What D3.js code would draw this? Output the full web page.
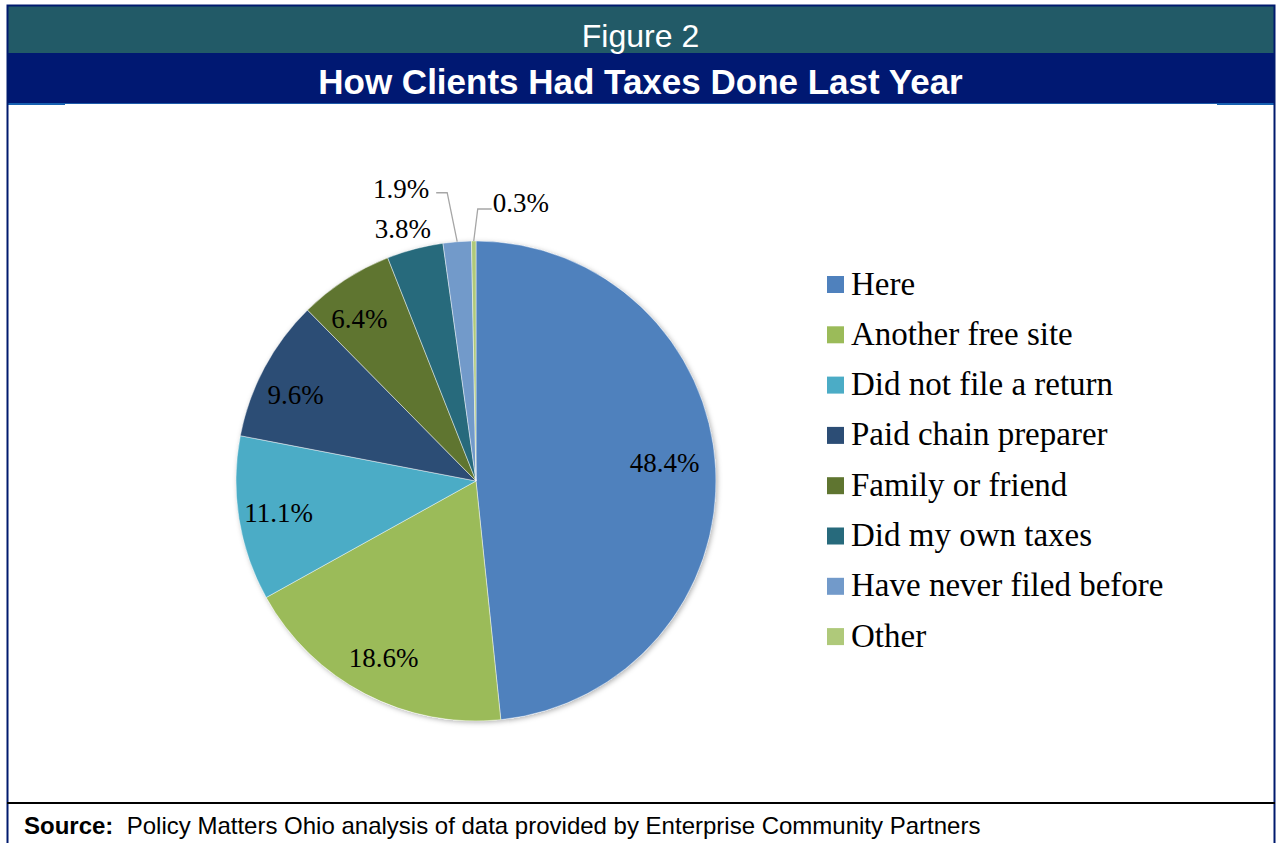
<!DOCTYPE html>
<html>
<head>
<meta charset="utf-8">
<script src="https://cdn.jsdelivr.net/npm/d3@7"></script>
<style>
  html, body { margin: 0; padding: 0; background: #fff; }
  svg { display: block; }
</style>
</head>
<body>
<svg id="chart" width="1276" height="843"></svg>
<script>
// Survey answers: how clients had their taxes done last year (percent)
const categories = [
  "Here",
  "Another free site",
  "Did not file a return",
  "Paid chain preparer",
  "Family or friend",
  "Did my own taxes",
  "Have never filed before",
  "Other"
];
const shares = [48.4, 18.6, 11.1, 9.6, 6.4, 3.8, 1.9, 0.3];
const sliceColors = ["#4F81BD", "#9BBB59", "#4BACC6", "#2C4D75", "#5F7530", "#276A7C", "#729ACA", "#AFC97A"];

const figureLabel = "Figure 2";
const titleText = "How Clients Had Taxes Done Last Year";
const sourceLead = "Source:";
const sourceText = "Policy Matters Ohio analysis of data provided by Enterprise Community Partners";

const svg = d3.select("#chart");
const serif = "'Liberation Serif', 'Times New Roman', serif";
const sans = "'Liberation Sans', Arial, sans-serif";

// ---- frame and header bands ----
const frameColor = "#001A6E";
svg.append("rect").attr("x", 8).attr("y", 6).attr("width", 1266).attr("height", 47).attr("fill", "#225A67");
svg.append("rect").attr("x", 8).attr("y", 53).attr("width", 1266).attr("height", 50).attr("fill", "#001872");
svg.append("line").attr("x1", 8).attr("x2", 1274).attr("y1", 103.5).attr("y2", 103.5)
  .attr("stroke", "#1D5AA8").attr("stroke-width", 1);
svg.append("rect").attr("x", 8).attr("y", 103).attr("width", 57).attr("height", 2).attr("fill", "#1660B0");
svg.append("rect").attr("x", 1217).attr("y", 103).attr("width", 57).attr("height", 2).attr("fill", "#1660B0");
// outer border (left, top, right)
svg.append("path")
  .attr("d", "M7.5,843 V5.5 H1274.5 V843")
  .attr("fill", "none").attr("stroke", frameColor).attr("stroke-width", 2);
// footer rule
svg.append("line").attr("x1", 7).attr("x2", 1275).attr("y1", 803).attr("y2", 803)
  .attr("stroke", "#000").attr("stroke-width", 2);

svg.append("text").attr("x", 640.5).attr("y", 47).attr("text-anchor", "middle")
  .attr("font-family", sans).attr("font-size", 32).attr("fill", "#fff").text(figureLabel);
svg.append("text").attr("x", 640.5).attr("y", 94).attr("text-anchor", "middle")
  .attr("font-family", sans).attr("font-weight", "bold").attr("font-size", 35).attr("fill", "#fff").text(titleText);

const src = svg.append("text").attr("x", 24).attr("y", 834)
  .attr("font-family", sans).attr("font-size", 24).attr("fill", "#000");
src.append("tspan").attr("font-weight", "bold").text(sourceLead);
src.append("tspan").text("\u00a0\u00a0" + sourceText);

// ---- pie ----
const cx = 476, cy = 481, R = 240;
const defs = svg.append("defs");
const shadow = defs.append("filter").attr("id", "pieShadow")
  .attr("x", "-10%").attr("y", "-10%").attr("width", "120%").attr("height", "120%");
shadow.append("feDropShadow").attr("dx", 1.5).attr("dy", 1.5).attr("stdDeviation", 2.5)
  .attr("flood-color", "#000").attr("flood-opacity", 0.3);

const data = categories.map((c, i) => ({ name: c, value: shares[i], color: sliceColors[i] }));
const pie = d3.pie().value(d => d.value).sort(null);
const arcs = pie(data);
const arc = d3.arc().innerRadius(0).outerRadius(R);

const g = svg.append("g").attr("transform", `translate(${cx},${cy})`);
g.append("circle").attr("r", R).attr("fill", "#fff").attr("filter", "url(#pieShadow)");
g.selectAll("path.slice").data(arcs).enter().append("path")
  .attr("class", "slice")
  .attr("d", arc)
  .attr("fill", d => d.data.color)
  .attr("stroke", "#ffffff").attr("stroke-opacity", 0.55).attr("stroke-width", 0.8);

const mid = d => (d.startAngle + d.endAngle) / 2;
const polar = (a, r) => [Math.sin(a) * r, -Math.cos(a) * r];

// inside labels for larger slices, outside/leader labels for small ones
arcs.forEach(d => {
  const a = mid(d);
  const txt = d.data.value.toFixed(1) + "%";
  const lbl = g.append("text").attr("font-family", serif).attr("font-size", 27).attr("fill", "#000")
    .attr("dominant-baseline", "central");
  if (d.data.value >= 5) {
    const big = d.data.value > 40;
    const r = big ? 0.79 * R : 0.833 * R;
    const shift = big ? 0.045 : (d.data.value < 10 ? 0.045 : 0);
    const p = polar(a - shift, r);
    lbl.attr("x", p[0]).attr("y", p[1]).attr("text-anchor", "middle").text(txt);
  } else if (d.data.value >= 3) {
    const p = polar(a - 0.025, 1.095 * R);
    lbl.attr("x", p[0]).attr("y", p[1]).attr("text-anchor", "middle").text(txt);
  } else {
    const start = polar(a, R);
    const leftSide = d.data.value > 1;
    const elbow = leftSide ? [start[0] - 10, start[1] - 49] : [start[0] + 4, start[1] - 32];
    const end = leftSide ? [elbow[0] - 11, elbow[1]] : [elbow[0] + 14, elbow[1]];
    g.append("path")
      .attr("d", `M${start[0]},${start[1]} L${elbow[0]},${elbow[1]} L${end[0]},${end[1]}`)
      .attr("fill", "none").attr("stroke", "#A6A6A6").attr("stroke-width", 1.3);
    lbl.attr("x", leftSide ? end[0] - 7 : end[0] + 1)
      .attr("y", elbow[1] - (leftSide ? 4 : 6))
      .attr("text-anchor", leftSide ? "end" : "start").text(txt);
  }
});

// ---- legend ----
const legend = svg.append("g").attr("transform", "translate(827,276)");
const rowStep = 50.3;
const rows = legend.selectAll("g").data(data).enter().append("g")
  .attr("transform", (d, i) => `translate(0,${i * rowStep})`);
rows.append("rect").attr("width", 17).attr("height", 17).attr("fill", d => d.color);
rows.append("text").attr("x", 24).attr("y", 18.5)
  .attr("font-family", serif).attr("font-size", 33).attr("fill", "#000")
  .text(d => d.name);
</script>
</body>
</html>
